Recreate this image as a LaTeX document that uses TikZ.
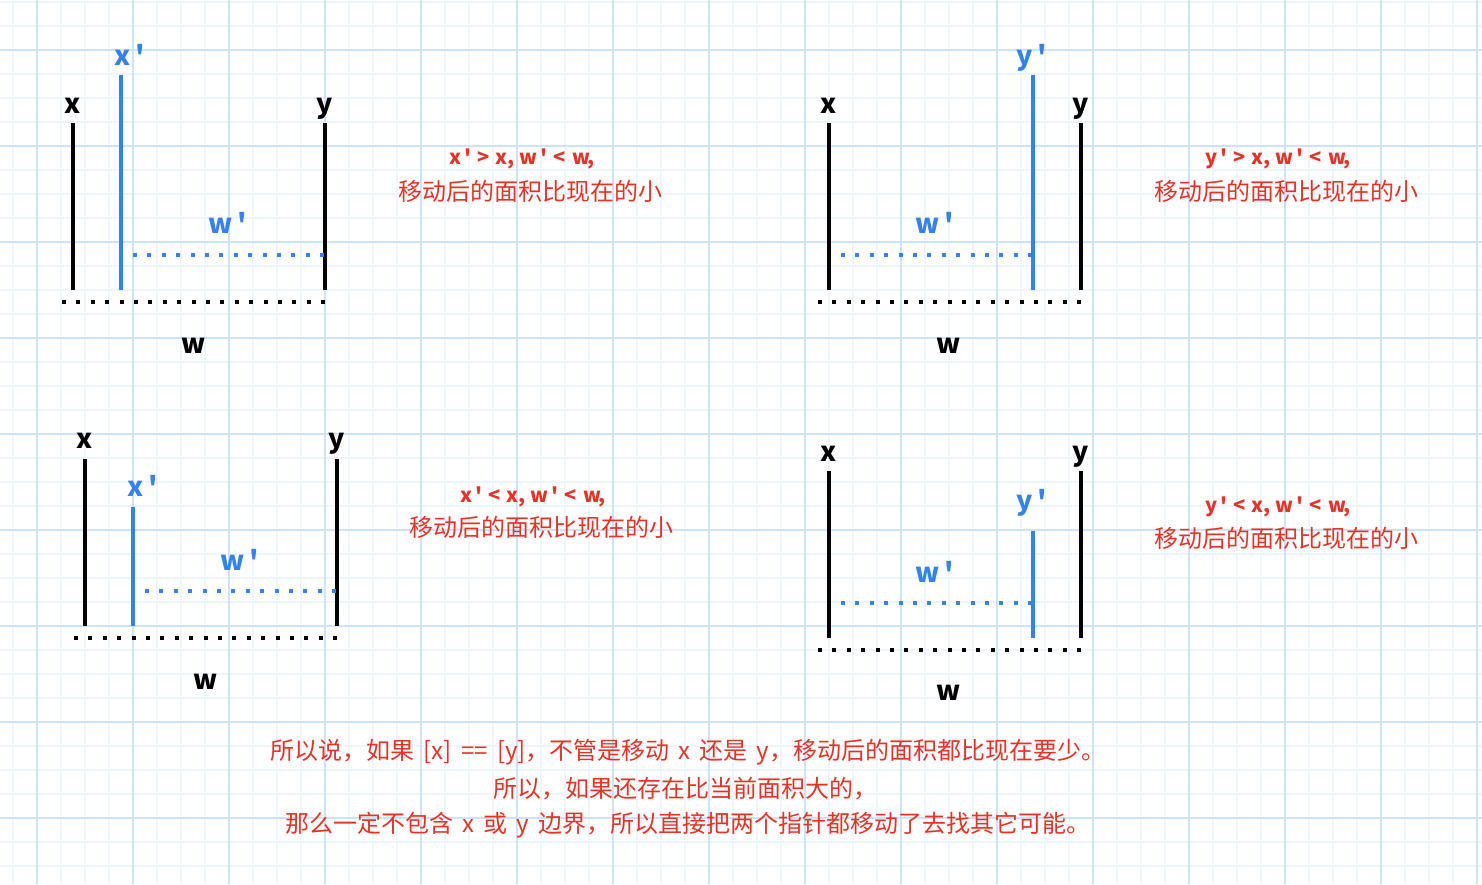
\documentclass[tikz,border=0pt]{standalone}
\usepackage{fontspec}
\newfontfamily\cjk{Noto Sans CJK SC}
\usetikzlibrary{positioning}
\definecolor{gridmajor}{RGB}{205,227,250}
\definecolor{gridminor}{RGB}{238,245,253}
\definecolor{notered}{RGB}{232,50,38}
\definecolor{moveblue}{RGB}{52,130,240}
\newcommand{\primemark}{\,{\char"27}}
\newcommand{\gapsp}{\hspace{6pt}}
\newcommand{\lt}[1]{\hspace{9pt}#1\hspace{9pt}}
\newcommand{\ltl}[1]{\hspace{9pt}#1}
\tikzset{
  barline/.style={line width=4.3pt,black},
  movebar/.style={line width=4.3pt,moveblue},
  widthdots/.style={line width=4pt,black,dash pattern=on 4pt off 10.4pt},
  gapdots/.style={line width=4pt,moveblue,dash pattern=on 4pt off 10.4pt},
  lbl/.style={font=\cjk\bfseries\fontsize{27}{30}\selectfont,inner sep=0pt,anchor=base},
  movelbl/.style={lbl,text=moveblue},
  note/.style={font=\cjk\fontsize{24}{28}\selectfont,text=notered,inner sep=0pt},
  cond/.style={font=\cjk\bfseries\fontsize{20}{24}\selectfont,text=notered,inner sep=0pt,anchor=base},
  summary/.style={font=\cjk\fontsize{24}{28}\selectfont,text=notered,inner sep=0pt},
}
\begin{document}
\begin{tikzpicture}[x=1pt,y=-1pt]
  \useasboundingbox (0,0) rectangle (1482,884);
  \fill[white] (0,0) rectangle (1482,884);
  %% grid paper
  \foreach \gx in {13,37,...,1477} \draw[gridminor,line width=1.2pt] (\gx,0) -- (\gx,884);
  \foreach \gy in {2,26,...,866} \draw[gridminor,line width=1.2pt] (0,\gy) -- (1482,\gy);
  \foreach \gx in {37,133,...,1477} \draw[gridmajor,line width=1.2pt] (\gx,0) -- (\gx,884);
  \foreach \gy in {50,146,...,818} \draw[gridmajor,line width=1.2pt] (0,\gy) -- (1482,\gy);

  %% case 1: x moves right, higher
  \draw[barline] (73,123) -- (73,290);
  \draw[barline] (325,123) -- (325,290);
  \draw[movebar] (121,75) -- (121,290);
  \draw[gapdots] (133,255) -- (326,255);
  \draw[widthdots] (62,302) -- (326,302);
  \node[lbl] (p1x) at (73,113) {x};
  \node[lbl] (p1y) at (325,113) {y};
  \node[movelbl] (p1xm) at (130,65) {x\primemark};
  \node[movelbl] (p1wm) at (228,233) {w\primemark};
  \node[lbl] (p1w) at (194,353) {w};
  \node[cond] (p1n1) at (522,164) {x\primemark\gapsp>\gapsp x, w\primemark\gapsp<\gapsp w,};
  \node[note] (p1n2) at (530,191) {移动后的面积比现在的小};

  %% case 2: y moves left, higher
  \draw[barline] (829,123) -- (829,290);
  \draw[barline] (1081,123) -- (1081,290);
  \draw[movebar] (1033,75) -- (1033,290);
  \draw[gapdots] (841,255) -- (1034,255);
  \draw[widthdots] (818,302) -- (1082,302);
  \node[lbl] (p2x) at (829,113) {x};
  \node[lbl] (p2y) at (1081,113) {y};
  \node[movelbl] (p2ym) at (1032,65) {y\primemark};
  \node[movelbl] (p2wm) at (935,233) {w\primemark};
  \node[lbl] (p2w) at (949,353) {w};
  \node[cond] (p2n1) at (1278,164) {y\primemark\gapsp>\gapsp x, w\primemark\gapsp<\gapsp w,};
  \node[note] (p2n2) at (1286,191) {移动后的面积比现在的小};

  %% case 3: x moves right, lower
  \draw[barline] (85,459) -- (85,626);
  \draw[barline] (337,459) -- (337,626);
  \draw[movebar] (133,507) -- (133,626);
  \draw[gapdots] (145,591) -- (338,591);
  \draw[widthdots] (74,638) -- (338,638);
  \node[lbl] (p3x) at (85,448) {x};
  \node[lbl] (p3y) at (337,448) {y};
  \node[movelbl] (p3xm) at (143,496) {x\primemark};
  \node[movelbl] (p3wm) at (240,570) {w\primemark};
  \node[lbl] (p3w) at (206,689) {w};
  \node[cond] (p3n1) at (533,502) {x\primemark\gapsp<\gapsp x, w\primemark\gapsp<\gapsp w,};
  \node[note] (p3n2) at (541,527) {移动后的面积比现在的小};

  %% case 4: y moves left, lower
  \draw[barline] (829,471) -- (829,638);
  \draw[barline] (1081,471) -- (1081,638);
  \draw[movebar] (1033,531) -- (1033,638);
  \draw[gapdots] (841,603) -- (1034,603);
  \draw[widthdots] (818,650) -- (1082,650);
  \node[lbl] (p4x) at (829,461) {x};
  \node[lbl] (p4y) at (1081,461) {y};
  \node[movelbl] (p4ym) at (1032,510) {y\primemark};
  \node[movelbl] (p4wm) at (935,582) {w\primemark};
  \node[lbl] (p4w) at (949,700) {w};
  \node[cond] (p4n1) at (1278,512) {y\primemark\gapsp<\gapsp x, w\primemark\gapsp<\gapsp w,};
  \node[note] (p4n2) at (1286,538) {移动后的面积比现在的小};

  %% conclusion
  \node[summary] (sum1) at (688,752) {所以说，如果\ltl{[x] \,==\, [y]}，不管是移动\lt{x}还是\ltl{y}，移动后的面积都比现在要少。};
  \node[summary] (sum2) at (685,789) {所以，如果还存在比当前面积大的，};
  \node[summary] (sum3) at (688,825) {那么一定不包含\lt{x}或\lt{y}边界，所以直接把两个指针都移动了去找其它可能。};
\end{tikzpicture}
\end{document}
